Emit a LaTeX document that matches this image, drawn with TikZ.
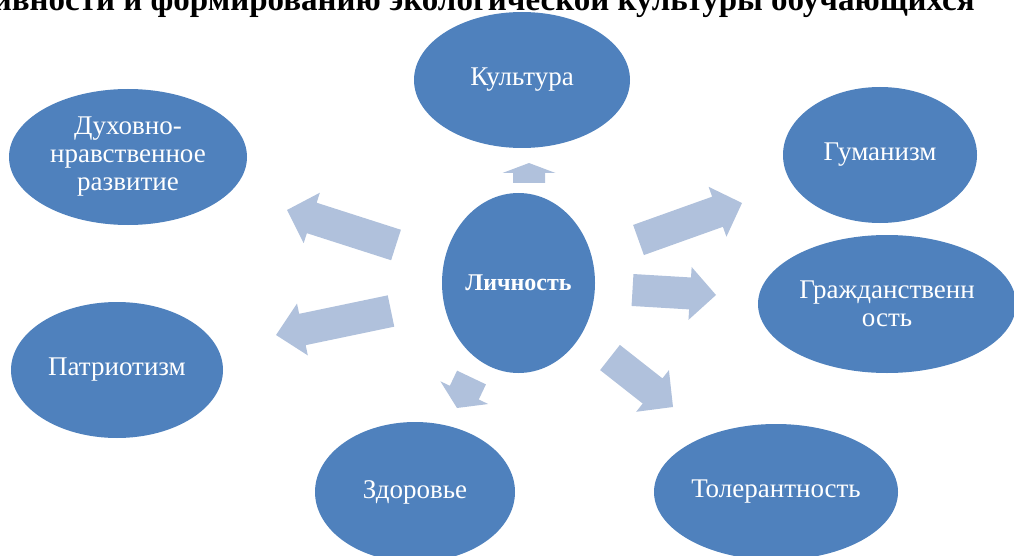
\documentclass[tikz,border=0pt]{standalone}
\usepackage{fontspec}
\setmainfont{Liberation Serif}
\usepackage{xcolor}
\usepackage{tikz}
\usetikzlibrary{calc, positioning, shapes.geometric}
\definecolor{ovalblue}{RGB}{79,129,189}
\definecolor{arrowblue}{RGB}{176,193,220}

\tikzset{
  oval/.style={ellipse, fill=ovalblue, text=white, inner sep=0pt, align=center,
    font=\fontsize{27}{28}\selectfont},
  blockfill/.style={fill=arrowblue}
}

% 块状箭头: 起点, 终点, 箭头长度
\newcommand{\blockarrow}[3]{%
  \path ($(#2)!#3!(#1)$) coordinate (bh);
  \fill[blockfill] ($(#1)!16pt!90:(#2)$) -- ($(bh)!16pt!90:(#2)$)
    -- ($(bh)!26.5pt!90:(#2)$) -- (#2) -- ($(bh)!26.5pt!-90:(#2)$)
    -- ($(bh)!16pt!-90:(#2)$) -- ($(#1)!16pt!-90:(#2)$) -- cycle;
}

\begin{document}
\begin{tikzpicture}[x=1pt, y=-1pt]
        \useasboundingbox (0,0) rectangle (1014,556);
        \clip (0,0) rectangle (1014,556);

        % 标题(上半部分被裁掉)
        \node[anchor=base east, inner sep=0pt, font=\bfseries\fontsize{33}{35}\selectfont] (title) at (975,11)
          {активности и формированию экологической культуры обучающихся};

        % 中心椭圆
        \node[oval, minimum width=153pt, minimum height=180pt, font=\bfseries\fontsize{24}{26}\selectfont] (lich) at (518.5,283) {Личность};

        % 外围椭圆
        \node[oval, minimum width=216pt, minimum height=136pt] (kult) at (522,80) {Культура};
        \node[oval, minimum width=238pt, minimum height=136pt] (duh) at (128,157) {Духовно-\\нравственное\\развитие};
        \node[oval, minimum width=194pt, minimum height=136pt] (gum) at (880,155) {Гуманизм};
        \node[oval, minimum width=258pt, minimum height=138pt] (grazh) at (887,304) {Гражданственн\\ость};
        \node[oval, minimum width=212pt, minimum height=136pt] (patr) at (117,370) {Патриотизм};
        \node[oval, minimum width=200pt, minimum height=140pt] (zdor) at (415,492) {Здоровье};
        \node[oval, minimum width=244pt, minimum height=136pt] (toler) at (776,492) {Толерантность};

        % 箭头的起点和终点
        \coordinate (kultS) at (529,183);   \coordinate (kultE) at (529,163);
        \coordinate (duhS) at (396,245);    \coordinate (duhE) at (287,210);
        \coordinate (patrS) at (391,311);   \coordinate (patrE) at (276,335);
        \coordinate (gumS) at (638.5,240);  \coordinate (gumE) at (742,203);
        \coordinate (grazhS) at (632.5,290); \coordinate (grazhE) at (716,295);
        \coordinate (tolerS) at (610,357.5); \coordinate (tolerE) at (673,407);
        \coordinate (zdorS) at (471.5,377.5); \coordinate (zdorE) at (457,408);

        % 绘制箭头
        \blockarrow{kultS}{kultE}{10pt}
        \blockarrow{duhS}{duhE}{26pt}
        \blockarrow{patrS}{patrE}{27pt}
        \blockarrow{gumS}{gumE}{26pt}
        \blockarrow{grazhS}{grazhE}{26pt}
        \blockarrow{tolerS}{tolerE}{26pt}
        \blockarrow{zdorS}{zdorE}{17pt}
\end{tikzpicture}
\end{document}
